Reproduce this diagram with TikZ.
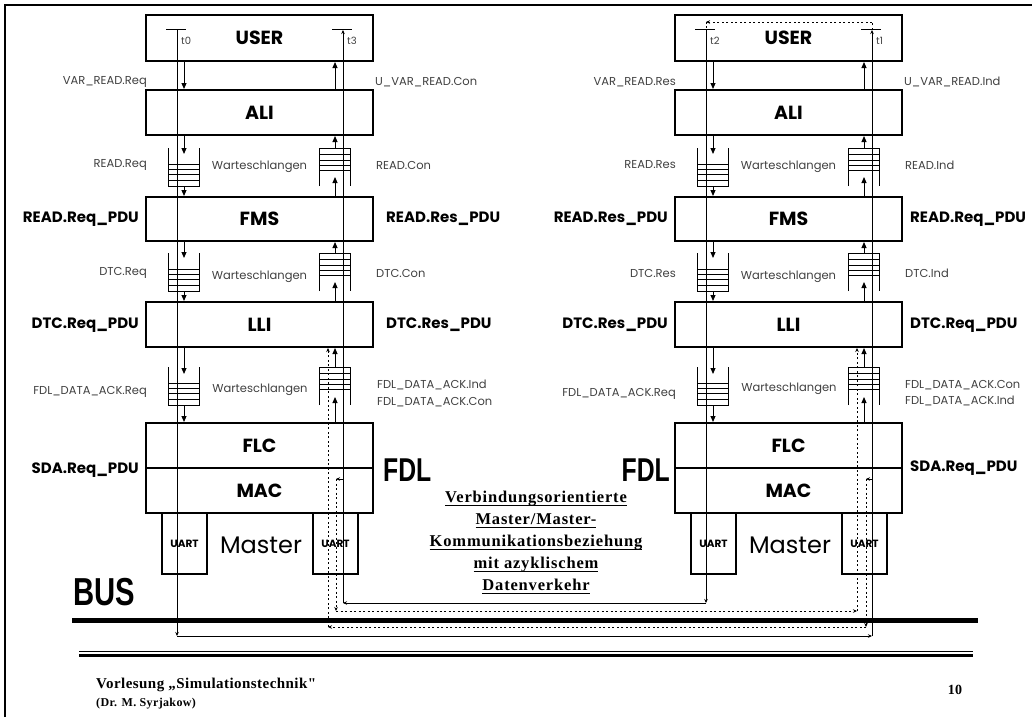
\documentclass[tikz,border=0pt]{standalone}
\usepackage{fontspec}
\setmainfont{Poppins}
\newfontfamily\narrowfont{Liberation Sans}[FakeStretch=0.75]
\newfontfamily\slidefont{Liberation Serif}[LetterSpace=3]
\newfontfamily\relfont{Liberation Serif}[LetterSpace=5]
\usetikzlibrary{arrows.meta}

% queue: #1 = centre x, #2 = top y (open top / open bottom)
\newcommand{\qin}[2]{%
  \draw[qline] (#1-15.5,#2) -- (#1-15.5,#2+38) -- (#1+15.5,#2+38) -- (#1+15.5,#2);
  \foreach \qy in {16,21,26,32} \draw[qline] (#1-15.5,#2+\qy) -- (#1+15.5,#2+\qy);}
\newcommand{\qout}[2]{%
  \draw[qline] (#1-15.5,#2+38) -- (#1-15.5,#2) -- (#1+15.5,#2) -- (#1+15.5,#2+38);
  \foreach \qy in {6,12,17,22} \draw[qline] (#1-15.5,#2+\qy) -- (#1+15.5,#2+\qy);}
\newcommand{\relline}[1]{\setbox0\hbox{#1}\rlap{\rule[-3.5pt]{\wd0}{1.4pt}}\box0}

\tikzset{
  layerbox/.style={draw, line width=2pt, minimum width=227pt, inner sep=0pt,
    font=\fontsize{19}{22}\selectfont\bfseries},
  boxtext/.style={inner sep=0pt, font=\fontsize{19}{22}\selectfont\bfseries},
  uartbox/.style={draw, line width=2pt, minimum width=45pt, minimum height=61pt,
    inner sep=0pt, font=\fontsize{10.5}{12}\selectfont\bfseries},
  master/.style={inner sep=0pt, font=\fontsize{24}{28}\selectfont\mdseries},
  lbl/.style={inner sep=0pt, text=black!75, font=\fontsize{11.5}{14}\selectfont},
  pdu/.style={inner sep=0pt, font=\fontsize{15}{18}\selectfont\bfseries},
  tlbl/.style={inner sep=0pt, text=black!75, font=\fontsize{10}{12}\selectfont},
  layername/.style={inner sep=0pt, font=\narrowfont\bfseries\fontsize{33}{36}\selectfont},
  qline/.style={line width=0.9pt},
  flow/.style={line width=1pt, -{Triangle[length=6pt,width=5pt]}},
  msg/.style={line width=0.9pt, -{Stealth[length=4pt,width=3.5pt]}},
  ack/.style={line width=0.9pt, dash pattern=on 2pt off 2.5pt,
    -{Stealth[length=4pt,width=3.5pt]}},
}

\begin{document}
\begin{tikzpicture}[x=1pt, y=-1pt]
\useasboundingbox (0,0) rectangle (1032,717);

% -- slide frame --
\draw[line width=2.2pt] (5,717) -- (5,5) -- (1032,5);

% -- the two protocol stacks --
\foreach \s/\sx in {L/0,R/529}{
  \begin{scope}[xshift=\sx]
    \node[layerbox, minimum height=46pt] (user\s) at (259.5,38) {USER};
    \node[layerbox, minimum height=45pt] (ali\s) at (259.5,112.5) {ALI};
    \node[layerbox, minimum height=44pt] (fms\s) at (259.5,219) {FMS};
    \node[layerbox, minimum height=45pt] (lli\s) at (259.5,324.5) {LLI};
    \node[layerbox, minimum height=90pt] (fdl\s) at (259.5,468) {};
    \draw[line width=2pt] (fdl\s.west) -- (fdl\s.east);
    \node[boxtext] (flc\s) at (259.5,446) {FLC};
    \node[boxtext] (mac\s) at (259.5,491) {MAC};
    \node[uartbox] (uarta\s) at (184.5,543.5) {UART};
    \node[uartbox] (uartb\s) at (335.5,543.5) {UART};
    \node[master] (master\s) at (261,545) {Master};
    \coordinate (dn\s) at (184,0);
    \coordinate (up\s) at (335,0);
    % queues
    \qin{184}{148} \qin{184}{253} \qin{184}{367}
    \qout{335}{148} \qout{335}{253} \qout{335}{367}
    % downward service primitives
    \draw[flow] (user\s.south -| dn\s) -- (ali\s.north -| dn\s);
    \draw[flow] (ali\s.south -| dn\s) -- ++(0,18);
    \draw[flow] (dn\s |- 0,186) -- (fms\s.north -| dn\s);
    \draw[flow] (fms\s.south -| dn\s) -- ++(0,16);
    \draw[flow] (dn\s |- 0,291) -- (lli\s.north -| dn\s);
    \draw[flow] (lli\s.south -| dn\s) -- ++(0,26);
    \draw[flow] (dn\s |- 0,405) -- (fdl\s.north -| dn\s);
    % upward service primitives
    \draw[flow] (ali\s.north -| up\s) -- (user\s.south -| up\s);
    \draw[flow] (up\s |- 0,148) -- (ali\s.south -| up\s);
    \draw[flow] (fms\s.north -| up\s) -- ++(0,-19);
    \draw[flow] (up\s |- 0,253) -- (fms\s.south -| up\s);
    \draw[flow] (lli\s.north -| up\s) -- ++(0,-19);
    \draw[flow] (up\s |- 0,367) -- (lli\s.south -| up\s);
    \draw[flow] (fdl\s.north -| up\s) -- ++(0,-25);
  \end{scope}
}

% -- left stack labels --
\node[lbl, anchor=east] (varreqL) at (147,82) {VAR\_READ.Req};
\node[lbl, anchor=west] (uvarconL) at (375,82) {U\_VAR\_READ.Con};
\node[lbl, anchor=east] (readreqL) at (147,165) {READ.Req};
\node[lbl] (waitaL) at (259.5,167) {Warteschlangen};
\node[lbl, anchor=west] (readconL) at (376,165) {READ.Con};
\node[pdu, anchor=east] (readreqpduL) at (139,219) {READ.Req\_PDU};
\node[pdu, anchor=west] (readrespduL) at (386,219) {READ.Res\_PDU};
\node[lbl, anchor=east] (dtcreqL) at (147,273) {DTC.Req};
\node[lbl] (waitbL) at (259.5,277) {Warteschlangen};
\node[lbl, anchor=west] (dtcconL) at (376,273) {DTC.Con};
\node[pdu, anchor=east] (dtcreqpduL) at (139,325) {DTC.Req\_PDU};
\node[pdu, anchor=west] (dtcrespduL) at (386,325) {DTC.Res\_PDU};
\node[lbl, anchor=east] (fdlreqL) at (147,392) {FDL\_DATA\_ACK.Req};
\node[lbl] (waitcL) at (260,390) {Warteschlangen};
\node[lbl, anchor=west] (fdlindL) at (377,385) {FDL\_DATA\_ACK.Ind};
\node[lbl, anchor=west] (fdlconL) at (377,402) {FDL\_DATA\_ACK.Con};
\node[pdu, anchor=east] (sdapduL) at (139,470) {SDA.Req\_PDU};
\node[layername, anchor=base west] (fdlnameL) at (383,481) {FDL};

% -- right stack labels --
\node[lbl, anchor=east] (varresR) at (676,82) {VAR\_READ.Res};
\node[lbl, anchor=west] (uvarindR) at (904,82) {U\_VAR\_READ.Ind};
\node[lbl, anchor=east] (readresR) at (676,165) {READ.Res};
\node[lbl] (waitaR) at (788.5,167) {Warteschlangen};
\node[lbl, anchor=west] (readindR) at (905,165) {READ.Ind};
\node[pdu, anchor=east] (readrespduR) at (668,219) {READ.Res\_PDU};
\node[pdu, anchor=west] (readreqpduR) at (910,219) {READ.Req\_PDU};
\node[lbl, anchor=east] (dtcresR) at (676,273) {DTC.Res};
\node[lbl] (waitbR) at (788.5,277) {Warteschlangen};
\node[lbl, anchor=west] (dtcindR) at (905,273) {DTC.Ind};
\node[pdu, anchor=east] (dtcrespduR) at (668,325) {DTC.Res\_PDU};
\node[pdu, anchor=west] (dtcreqpduR) at (910,325) {DTC.Req\_PDU};
\node[lbl, anchor=east] (fdlreqR) at (676,394) {FDL\_DATA\_ACK.Req};
\node[lbl] (waitcR) at (789,389) {Warteschlangen};
\node[lbl, anchor=west] (fdlconR) at (905,385) {FDL\_DATA\_ACK.Con};
\node[lbl, anchor=west] (fdlindR) at (905,401) {FDL\_DATA\_ACK.Ind};
\node[pdu, anchor=west] (sdapduR) at (910,468) {SDA.Req\_PDU};
\node[layername, anchor=base east] (fdlnameR) at (670,481) {FDL};

% -- time marks --
\coordinate (t0) at (177,30);
\coordinate (t3) at (343,30);
\coordinate (t2) at (706,30);
\coordinate (t1) at (872,30);
\foreach \t in {t0,t1,t2,t3}
  \draw[line width=1pt] ([xshift=-11pt]\t) -- ([xshift=9pt]\t);
\node[tlbl, anchor=west] (tl0) at (181,41) {t0};
\node[tlbl, anchor=west] (tl3) at (347,41) {t3};
\node[tlbl, anchor=west] (tl2) at (710,41) {t2};
\node[tlbl, anchor=west] (tl1) at (876,41) {t1};

% -- request t0 -> t1 and response t2 -> t3 --
\coordinate (a0) at (177,636);
\coordinate (a1) at (872,636);
\coordinate (b2) at (706,603);
\coordinate (b3) at (343,603);
\draw[msg] (t0) -- (a0);
\draw[msg] (a0) -- (a1);
\draw[msg] (a1) -- (t1);
\draw[msg] (t2) -- (b2);
\draw[msg] (b2) -- (b3);
\draw[msg] (b3) -- (t3);

% -- user reaction time t1 -> t2 --
\coordinate (w1) at (872,22);
\coordinate (w2) at (706,22);
\draw[ack, -] (t1) -- (w1);
\draw[ack] (w1) -- (w2);
\draw[ack, -] (w2) -- (t2);

% -- immediate acknowledgements --
\coordinate (kR) at (866,479);
\coordinate (kR1) at (866,627);
\coordinate (kR2) at (328,627);
\coordinate (kL) at (336,479);
\coordinate (kL1) at (336,611);
\coordinate (kL2) at (857,611);
\draw[msg] (a1 |- kR) -- (kR);
\draw[ack] (kR) -- (kR1);
\draw[ack] (kR1) -- (kR2);
\draw[ack] (kR2) -- (lliL.south -| kR2);
\draw[msg] (b3 |- kL) -- (kL);
\draw[ack] (kL) -- (kL1);
\draw[ack] (kL1) -- (kL2);
\draw[ack] (kL2) -- (lliR.south -| kL2);

% -- bus --
\draw[line width=5pt] (72,620) -- (978,620);
\node[anchor=base west, inner sep=0pt, font=\narrowfont\bfseries\fontsize{39}{42}\selectfont] (bus) at (73,605) {BUS};

% -- relation text --
\node[align=center, inner sep=0pt, font=\relfont\bfseries\fontsize{16.5}{22}\selectfont] (relation) at (536,543)
  {\relline{Verbindungsorientierte}\\ \relline{Master/Master-}\\ \relline{Kommunikationsbeziehung}\\
   \relline{mit azyklischem}\\ \relline{Datenverkehr}};

% -- footer --
\draw[line width=1.2pt] (79,651.5) -- (973,651.5);
\draw[line width=3pt] (79,655.5) -- (973,655.5);
\node[anchor=base west, inner sep=0pt, font=\slidefont\bfseries\fontsize{15}{18}\selectfont] (lecture) at (96,688) {Vorlesung „Simulationstechnik"};
\node[anchor=base west, inner sep=0pt, font=\slidefont\bfseries\fontsize{12}{14}\selectfont] (lecturer) at (96,706) {(Dr. M. Syrjakow)};
\node[inner sep=0pt, font=\slidefont\bfseries\fontsize{14}{16}\selectfont] (pageno) at (955,690) {10};

\end{tikzpicture}
\end{document}
